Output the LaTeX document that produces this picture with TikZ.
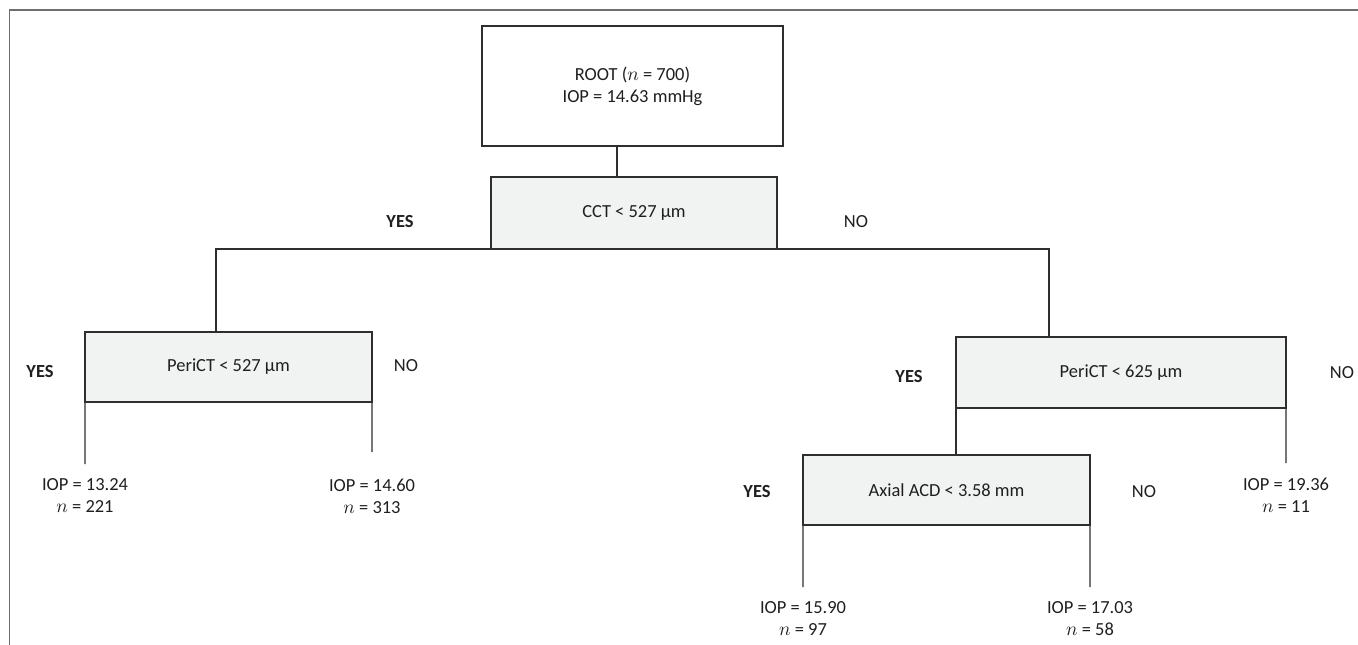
\documentclass[tikz,border=0pt]{standalone}
\usepackage{fontspec}
\setmainfont{Carlito}

\definecolor{boxgray}{HTML}{F1F2F2}
\definecolor{linegray}{HTML}{2E2E2E}
\definecolor{framegray}{HTML}{6E6E6E}
\newcommand{\treefont}{\fontsize{10.5}{12.5}\selectfont}

\tikzset{
  split/.style={draw=linegray, line width=0.75pt, fill=boxgray, inner sep=0pt, outer sep=0pt},
  leaf/.style={align=center, inner sep=0pt, outer sep=0.3cm, anchor=north},
  link/.style={draw=linegray, line width=0.75pt},
  yes/.style={font=\treefont\bfseries}
}

\begin{document}
\begin{tikzpicture}[x=0.02cm, y=-0.02cm, font=\treefont, text=black!88]
  \useasboundingbox (0,0) rectangle (1358,645);
  \draw[framegray, line width=1.1pt] (1358,10) -- (9.5,10) -- (9.5,645);

  % boxes
  \node[split, fill=white, minimum width=6.02cm, minimum height=2.4cm, align=center] (root) at (632.5,86) {ROOT ($n$ = 700)\\IOP = 14.63 mmHg};
  \node[split, minimum width=5.72cm, minimum height=1.44cm] (cct) at (634,213) {CCT < 527 µm};
  \node[split, minimum width=5.74cm, minimum height=1.4cm] (p527) at (228.5,367) {PeriCT < 527 µm};
  \node[split, minimum width=6.6cm, minimum height=1.42cm] (p625) at (1121,372.5) {PeriCT < 625 µm};
  \node[split, minimum width=5.74cm, minimum height=1.4cm] (acd) at (946.5,490) {Axial ACD < 3.58 mm};

  % leaves
  \node[leaf] (l1) at (85,464) {IOP = 13.24\\$n$ = 221};
  \node[leaf] (l2) at (372,464) {IOP = 14.60\\$n$ = 313};
  \node[leaf] (l3) at (1286,463) {IOP = 19.36\\$n$ = 11};
  \node[leaf] (l4) at (803,587) {IOP = 15.90\\$n$ = 97};
  \node[leaf] (l5) at (1090,587) {IOP = 17.03\\$n$ = 58};

  % yes / no
  \node[yes] (yes1) at (400,222) {YES};
  \node (no1) at (856,222) {NO};
  \node[yes] (yes2) at (40,372) {YES};
  \node (no2) at (406,366) {NO};
  \node[yes] (yes3) at (909,377) {YES};
  \node (no3) at (1342,373) {NO};
  \node[yes] (yes4) at (757,492) {YES};
  \node (no4) at (1144,492) {NO};

  % connectors
  \coordinate (stem) at (617,146);
  \coordinate (cctL) at (216,249);
  \coordinate (cctR) at (1049,249);
  \draw[link] (stem) -- (stem |- cct.north);
  \draw[link] (cctL |- p527.north) -- (cctL) -- (cctR) -- (cctR |- p625.north);
  \draw[link] (p527.south west) -- (l1.north);
  \draw[link] (p527.south east) -- ([yshift=0.24cm]l2.north);
  \draw[link] (p625.south west) -- (acd.north -| p625.south west);
  \draw[link] (p625.south east) -- (l3.north);
  \draw[link] (acd.south west) -- (l4.north);
  \draw[link] (acd.south east) -- (l5.north);
\end{tikzpicture}
\end{document}
